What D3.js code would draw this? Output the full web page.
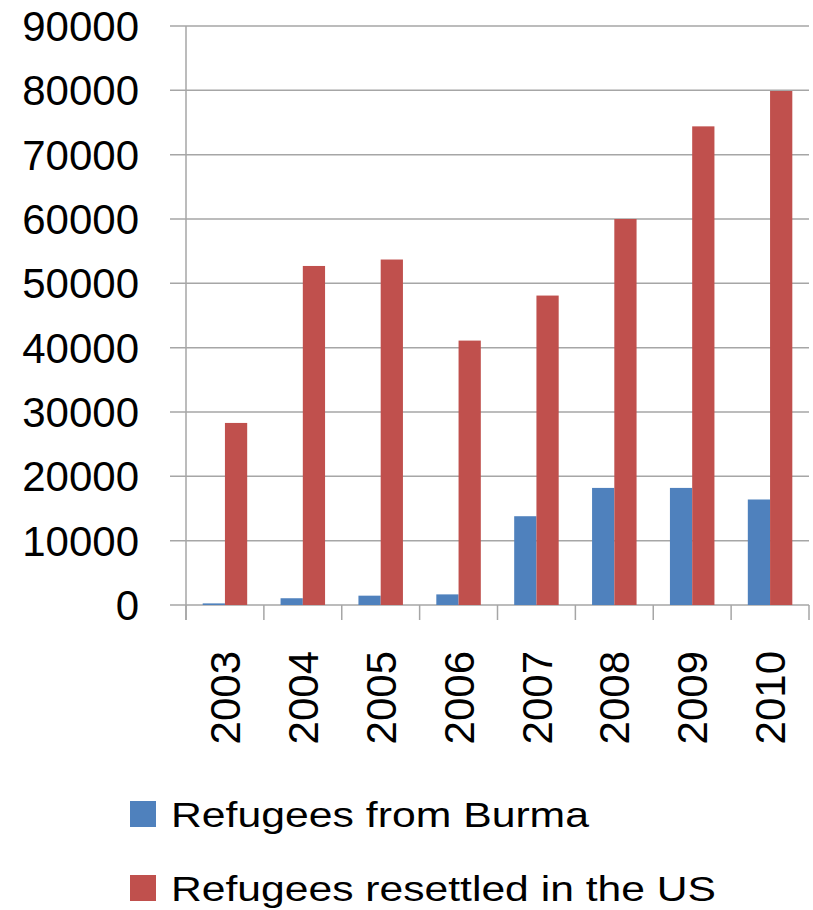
<!DOCTYPE html>
<html>
<head>
<meta charset="UTF-8">
<title>Refugees chart</title>
<style>
  body { margin: 0; background: #fff; }
  text { font-family: "Liberation Sans", Arial, sans-serif; fill: #000; }
</style>
</head>
<body>
<script src="https://cdn.jsdelivr.net/npm/d3@7/dist/d3.min.js"></script>
<script>
// data
var years = ["2003", "2004", "2005", "2006", "2007", "2008", "2009", "2010"];
var burma = [250, 1050, 1450, 1650, 13800, 18200, 18200, 16400];
var resettled = [28300, 52700, 53700, 41100, 48100, 60000, 74400, 79900];
var seriesNames = ["Refugees from Burma", "Refugees resettled in the US"];
var yTicks = [0, 10000, 20000, 30000, 40000, 50000, 60000, 70000, 80000, 90000];

var width = 813, height = 910;
// plot area (note: "top" is taken by window.top)
var plotLeft = 186, plotRight = 809, plotTop = 26, plotBottom = 605;
var colors = ["#4f81bd", "#c0504d"];
var grid = "#a6a6a6";

var svg = d3.select("body").append("svg")
    .attr("width", width)
    .attr("height", height);

var x = d3.scaleBand().domain(years).range([plotLeft, plotRight]);
var y = d3.scaleLinear().domain([0, 90000]).range([plotBottom, plotTop]);
// two bars per year, gap width 150%
var inner = d3.scaleBand().domain([0, 1]).range([0, x.bandwidth()])
    .paddingInner(0).paddingOuter(0.75);

// gridlines + y tick labels
svg.append("g").selectAll("line").data(yTicks).enter().append("line")
    .attr("x1", plotLeft - 16).attr("x2", plotRight)
    .attr("y1", function(d){ return y(d); })
    .attr("y2", function(d){ return y(d); })
    .attr("stroke", grid).attr("stroke-width", 1.5);

svg.append("g").selectAll("text").data(yTicks).enter().append("text")
    .attr("x", 139)
    .attr("y", function(d){ return y(d); })
    .attr("dy", "0.36em")
    .attr("text-anchor", "end")
    .style("font-size", "42px")
    .text(function(d){ return d; });

// y axis line
svg.append("line")
    .attr("x1", plotLeft).attr("x2", plotLeft)
    .attr("y1", plotTop).attr("y2", plotBottom + 15)
    .attr("stroke", grid).attr("stroke-width", 1.5);

// x tick marks at band edges
var edges = years.map(function(d){ return x(d); }).concat([plotRight]);
svg.append("g").selectAll("line").data(edges).enter().append("line")
    .attr("x1", function(d){ return d; })
    .attr("x2", function(d){ return d; })
    .attr("y1", plotBottom).attr("y2", plotBottom + 15)
    .attr("stroke", grid).attr("stroke-width", 1.5);

// bars
[burma, resettled].forEach(function(vals, s){
    svg.append("g").selectAll("rect").data(vals).enter().append("rect")
        .attr("x", function(d, i){ return x(years[i]) + inner(s); })
        .attr("width", inner.bandwidth())
        .attr("y", function(d){ return y(d); })
        .attr("height", function(d){ return plotBottom - y(d); })
        .attr("fill", colors[s]);
});

// x labels, rotated
svg.append("g").selectAll("text").data(years).enter().append("text")
    .attr("transform", function(d){
        return "translate(" + (x(d) + x.bandwidth() / 2) + ",651) rotate(-90)";
    })
    .attr("dy", "0.36em")
    .attr("text-anchor", "end")
    .style("font-size", "42px")
    .text(function(d){ return d; });

// legend
var legendY = [827, 901];
var legendLen = [418, 545];
seriesNames.forEach(function(name, i){
    svg.append("rect")
        .attr("x", 130).attr("y", legendY[i] - 26)
        .attr("width", 26).attr("height", 26)
        .attr("fill", colors[i]);
    svg.append("text")
        .attr("x", 171).attr("y", legendY[i])
        .style("font-size", "35px")
        .attr("textLength", legendLen[i])
        .attr("lengthAdjust", "spacingAndGlyphs")
        .text(name);
});
</script>
</body>
</html>
